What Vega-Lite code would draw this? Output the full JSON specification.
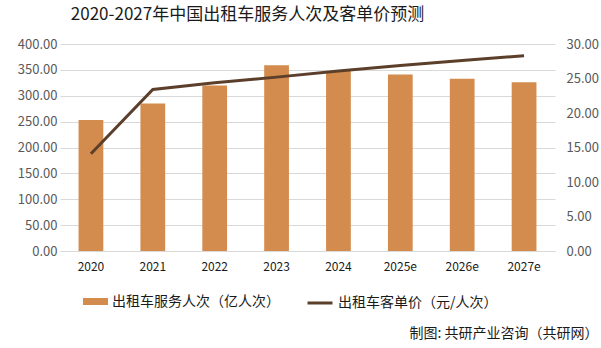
{
  "$schema": "https://vega.github.io/schema/vega-lite/v6.json",
  "width": 495,
  "height": 207,
  "autosize": "none",
  "padding": {"left": 60, "top": 44, "right": 46, "bottom": 97},
  "background": "white",
  "config": {
    "font": "Noto Sans CJK SC",
    "view": {"stroke": null},
    "axis": {"labelFont": "Noto Sans CJK SC", "labelColor": "#595959", "labelFontSize": 13, "ticks": false}
  },
  "title": {
    "text": "2020-2027年中国出租车服务人次及客单价预测",
    "font": "Noto Sans CJK SC",
    "fontSize": 17,
    "fontWeight": "normal",
    "color": "#1a1a1a",
    "anchor": "middle",
    "dx": -60,
    "offset": 14
  },
  "data": {
    "values": [
      {"year": "2020", "trips": 253, "price": 14.1},
      {"year": "2021", "trips": 285, "price": 23.4},
      {"year": "2022", "trips": 320, "price": 24.4},
      {"year": "2023", "trips": 359, "price": 25.2},
      {"year": "2024", "trips": 348, "price": 26.1},
      {"year": "2025e", "trips": 341, "price": 26.9},
      {"year": "2026e", "trips": 333, "price": 27.6},
      {"year": "2027e", "trips": 326, "price": 28.3}
    ]
  },
  "encoding": {
    "x": {
      "field": "year",
      "type": "nominal",
      "sort": null,
      "scale": {"paddingInner": 0.6, "paddingOuter": 0.3},
      "axis": {
        "title": "制图: 共研产业咨询（共研网）",
        "titleFont": "Noto Sans CJK SC",
        "titleFontSize": 14,
        "titleFontWeight": "normal",
        "titleColor": "#1a1a1a",
        "titleAnchor": "end",
        "titleAlign": "right",
        "titleBaseline": "middle",
        "titleX": 538,
        "titleY": 82,
        "titleLimit": 400,
        "labelAngle": 0,
        "labelPadding": 10,
        "labelFontSize": 12,
        "labelColor": "#1a1a1a",
        "domainColor": "#D9D9D9",
        "domainWidth": 1,
        "grid": false
      }
    }
  },
  "layer": [
    {
      "mark": {"type": "bar"},
      "encoding": {
        "y": {
          "field": "trips",
          "type": "quantitative",
          "scale": {"domain": [0, 400]},
          "axis": {
            "title": null,
            "values": [0, 50, 100, 150, 200, 250, 300, 350, 400],
            "format": ".2f",
            "labelPadding": 3,
            "domain": false,
            "grid": true,
            "gridColor": "#D9D9D9",
            "gridWidth": 1
          }
        },
        "fill": {
          "datum": "出租车服务人次（亿人次）",
          "type": "nominal",
          "scale": {"range": ["#D38C4E"]},
          "legend": {
            "title": null,
            "orient": "none",
            "legendX": 23,
            "legendY": 245,
            "padding": 0,
            "symbolType": "M-1,-0.28H1V0.28H-1Z",
            "symbolSize": 625,
            "symbolStrokeWidth": 0,
            "labelFont": "Noto Sans CJK SC",
            "labelFontSize": 14,
            "labelColor": "#1a1a1a",
            "labelOffset": 4,
            "labelLimit": 300
          }
        }
      }
    },
    {
      "mark": {"type": "line", "strokeWidth": 3, "strokeCap": "butt"},
      "encoding": {
        "y": {
          "field": "price",
          "type": "quantitative",
          "scale": {"domain": [0, 30]},
          "axis": {
            "title": null,
            "orient": "right",
            "values": [0, 5, 10, 15, 20, 25, 30],
            "format": ".2f",
            "labelPadding": 11,
            "domain": false,
            "grid": false
          }
        },
        "stroke": {
          "datum": "出租车客单价（元/人次）",
          "type": "nominal",
          "scale": {"range": ["#5C3F2B"]},
          "legend": {
            "title": null,
            "orient": "none",
            "legendX": 246,
            "legendY": 245,
            "padding": 0,
            "symbolType": "stroke",
            "symbolSize": 625,
            "symbolStrokeWidth": 3,
            "labelFont": "Noto Sans CJK SC",
            "labelFontSize": 14,
            "labelColor": "#1a1a1a",
            "labelOffset": 4,
            "labelLimit": 300
          }
        }
      }
    }
  ],
  "resolve": {"scale": {"y": "independent"}}
}
